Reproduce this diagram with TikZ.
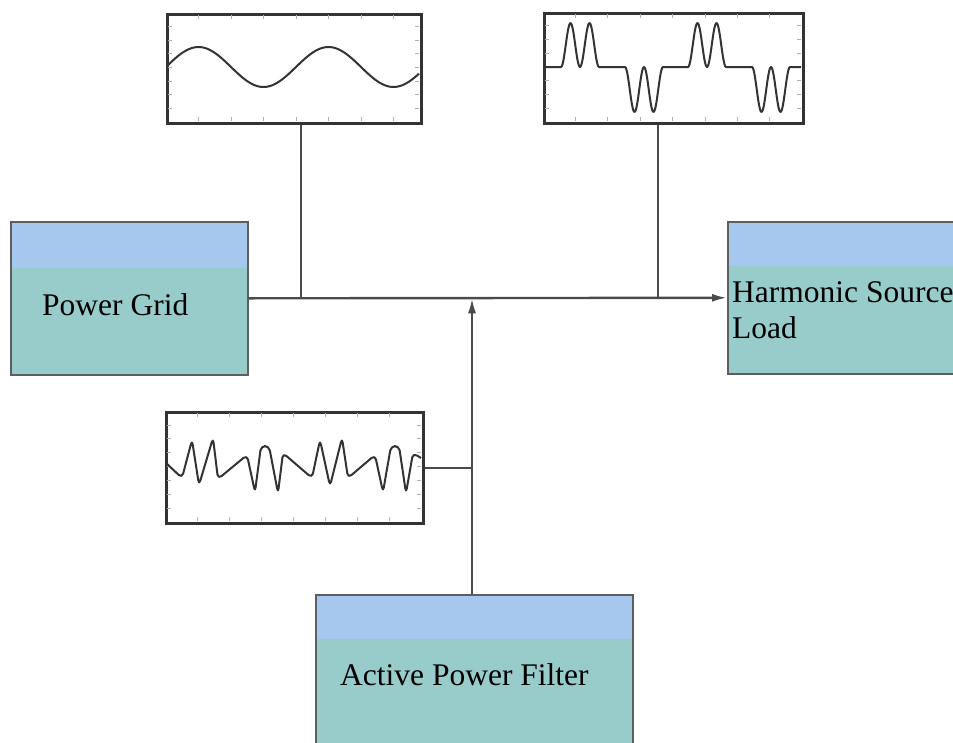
\documentclass[tikz,border=0pt]{standalone}
\usepackage{fontspec}
\setmainfont{Liberation Serif}
\newfontfamily\labelserif{Liberation Serif}
\usetikzlibrary{arrows.meta}
\definecolor{bandblue}{HTML}{A6C8EE}
\definecolor{bodyteal}{HTML}{98CCCB}
\definecolor{edgegray}{HTML}{5E5E5E}
\definecolor{linegray}{HTML}{4A4A4A}
\definecolor{framegray}{HTML}{333333}
\definecolor{tickgray}{HTML}{B0B0B0}
\tikzset{
  blockbox/.style={draw=edgegray, line width=1.6pt, fill=bodyteal, inner sep=0pt, anchor=north west, rectangle},
  wavebox/.style={draw=framegray, line width=2.8pt, fill=white, inner sep=0pt, anchor=north west, rectangle},
  wave/.style={draw=framegray, line width=2pt, line join=round},
  bus/.style={draw=linegray, line width=2.4pt},
  tip/.style={-{Latex[length=15pt,width=8pt]}},
  label/.style={font=\labelserif\fontsize{31.5}{36}\selectfont, anchor=base west, inner sep=0pt, align=left},
  tick/.style={draw=tickgray, line width=0.8pt}
}
\begin{document}
\begin{tikzpicture}[x=1pt,y=-1pt]
\useasboundingbox (0,0) rectangle (953,742);
\clip (0,0) rectangle (953,742);
\fill[white] (0,0) rectangle (953,742);

% blocks
\node[blockbox, minimum width=237pt, minimum height=153pt,
  path picture={\fill[bandblue] (path picture bounding box.north west) rectangle ([yshift=-46pt]path picture bounding box.north east);}] (grid) at (10,221) {};
\node[blockbox, minimum width=262pt, minimum height=152pt,
  path picture={\fill[bandblue] (path picture bounding box.north west) rectangle ([yshift=-44pt]path picture bounding box.north east);}] (harm) at (727,221) {};
\node[blockbox, minimum width=317pt, minimum height=165pt,
  path picture={\fill[bandblue] (path picture bounding box.north west) rectangle ([yshift=-44pt]path picture bounding box.north east);}] (apf) at (315,594) {};

\node[label] (gridtxt) at (42,315) {Power Grid};
\node[label] (harmtxt) at (732,338) {Harmonic Source\\Load};
\node[label] (apftxt) at (340,685) {Active Power Filter};

% waveform frames
\node[wavebox, minimum width=254pt, minimum height=109pt] (w1) at (166,13) {};
\node[wavebox, minimum width=259pt, minimum height=110pt] (w2) at (543,12) {};
\node[wavebox, minimum width=257pt, minimum height=111pt] (w3) at (165,411) {};

% ticks
\foreach \k in {1,...,7}{
  \draw[tick] (166+32.5*\k,14.5) -- ++(0,4);
  \draw[tick] (166+32.5*\k,120.5) -- ++(0,-4);
  \draw[tick] (543+32.4*\k,13.5) -- ++(0,4);
  \draw[tick] (543+32.4*\k,120.5) -- ++(0,-4);
  \draw[tick] (165+32.1*\k,412.5) -- ++(0,4);
  \draw[tick] (165+32.1*\k,520.5) -- ++(0,-4);
}
\foreach \k in {1,...,7}{
  \draw[tick] (167.5,13+13.6*\k) -- ++(4,0);
  \draw[tick] (418.5,13+13.6*\k) -- ++(-4,0);
  \draw[tick] (544.5,12+13.7*\k) -- ++(4,0);
  \draw[tick] (800.5,12+13.7*\k) -- ++(-4,0);
  \draw[tick] (166.5,411+13.9*\k) -- ++(4,0);
  \draw[tick] (420.5,411+13.9*\k) -- ++(-4,0);
}

% sine wave
\draw[wave] plot[domain=167:419, samples=120] (\x, {67-20*sin(2.76923*(\x-166))});

% harmonic load current
\draw[wave] (544,67) -- (561,67)
  -- plot[domain=561:599, samples=50] (\x, {67-44*pow(sin(9.47368*(\x-561)),2)})
  -- (625,67)
  -- plot[domain=625:663, samples=50] (\x, {67+45*pow(sin(9.47368*(\x-625)),2)})
  -- (688,67)
  -- plot[domain=688:726, samples=50] (\x, {67-44*pow(sin(9.47368*(\x-688)),2)})
  -- (752,67)
  -- plot[domain=752:790, samples=50] (\x, {67+45*pow(sin(9.47368*(\x-752)),2)})
  -- (801,67);

% filter current
\draw[wave, rounded corners=4.5pt] (166,463) -- (182,478) -- (192,440) -- (199,485) -- (213,438) -- (218,479)
  -- (247,455) -- (255,492) -- (261,446) -- (269,446) -- (278,493) -- (283,453)
  -- (312,478) -- (320,440) -- (330,486) -- (342,438) -- (348,478)
  -- (375,455) -- (383,492) -- (391,446) -- (399,446) -- (406,493) -- (413,453) -- (421,458);

% connectors
\coordinate (t1) at (301,297);
\coordinate (t2) at (658,297);
\draw[bus, tip] (grid.east) -- (harm.west);
\draw[bus] (t1) -- (t1 |- w1.south);
\draw[bus] (t2) -- (t2 |- w2.south);
\coordinate (fx) at (472,594);
\draw[bus, tip] (fx) -- (fx |- grid.east);
\draw[bus] (w3.east) -- (w3.east -| fx);
\end{tikzpicture}
\end{document}
